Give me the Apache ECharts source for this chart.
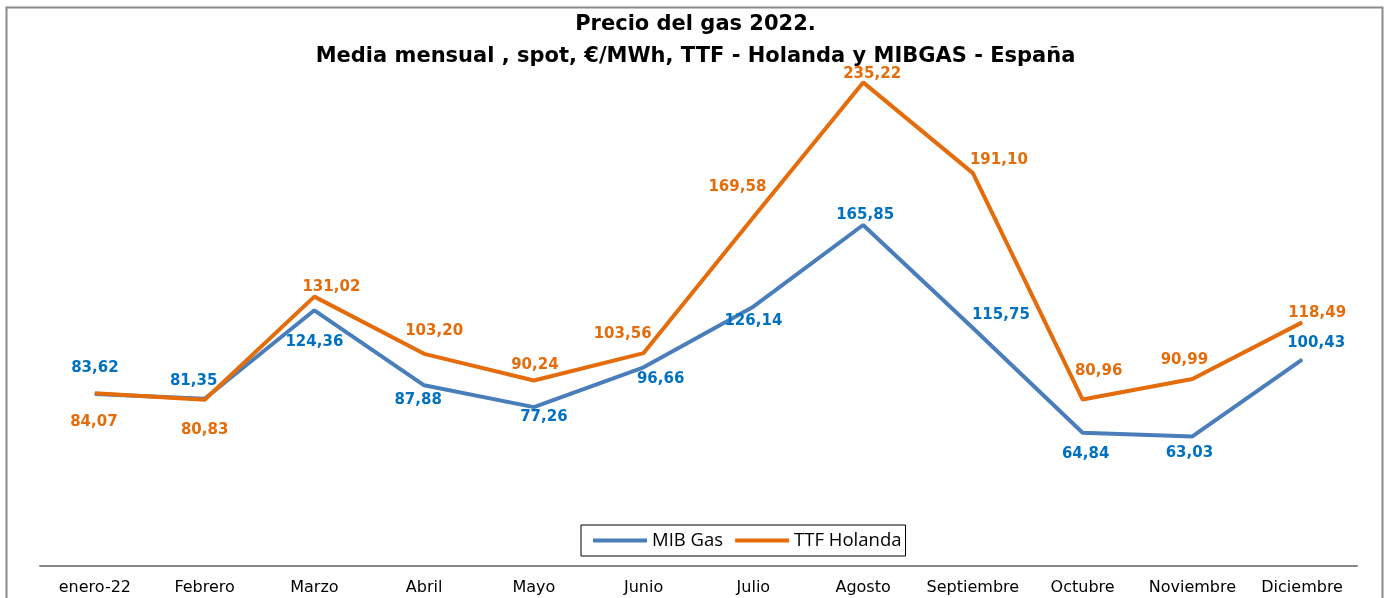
<!DOCTYPE html>
<html>
<head>
<meta charset="utf-8">
<script src="https://cdn.jsdelivr.net/npm/echarts@6/dist/echarts.min.js"></script>
<style>
  html, body { margin: 0; padding: 0; background: #fff; }
  #chart { width: 1391px; height: 598px; }
</style>
</head>
<body>
<div id="chart"></div>
<script>
var meses = ['enero-22', 'Febrero', 'Marzo', 'Abril', 'Mayo', 'Junio', 'Julio', 'Agosto', 'Septiembre', 'Octubre', 'Noviembre', 'Diciembre']
var mibGas = [83.62, 81.35, 124.36, 87.88, 77.26, 96.66, 126.14, 165.85, 115.75, 64.84, 63.03, 100.43]
var ttfHolanda = [84.07, 80.83, 131.02, 103.20, 90.24, 103.56, 169.58, 235.22, 191.10, 80.96, 90.99, 118.49]

// desplazamiento de cada etiqueta respecto a su punto (px)
var mibOffset = [[0, -26], [-11, -18], [0, 32], [-6, 15], [10, 10], [17, 12], [0, 14], [2, -10], [28, -13], [3, 21], [-3, 17], [14, -16]]
var ttfOffset = [[-1, 29], [0, 30], [17, -10], [10, -23], [1, -15], [-21, -19], [-16, -30], [9, -8], [26, -13], [16, -28], [-8, -19], [15, -9]]

var fmt = function (v) { return v.toFixed(2).replace('.', ',') }

function buildData (values, offsets, color) {
  return values.map(function (v, i) {
    return {
      value: v,
      label: {
        show: true,
        position: 'inside',
        offset: offsets[i],
        color: color,
        fontFamily: 'DejaVu Sans',
        fontWeight: 'bold',
        fontSize: 15,
        formatter: function (p) { return fmt(p.value) }
      }
    }
  })
}

var chart = echarts.init(document.getElementById('chart'))
chart.setOption({
  animation: false,
  title: {
    text: 'Precio del gas 2022.\nMedia mensual , spot, €/MWh, TTF - Holanda y MIBGAS - España',
    left: 'center',
    top: 4,
    textStyle: {
      fontFamily: 'DejaVu Sans',
      fontWeight: 'bold',
      fontSize: 21,
      lineHeight: 32,
      color: '#000'
    }
  },
  graphic: [{
    type: 'rect',
    shape: { x: 6.5, y: 7.5, width: 1376, height: 620 },
    style: { fill: 'none', stroke: '#8a8a8a', lineWidth: 2 },
    silent: true
  }],
  legend: {
    left: 581,
    top: 525,
    data: ['MIB Gas', 'TTF Holanda'],
    icon: 'rect',
    itemWidth: 54,
    itemHeight: 4,
    itemGap: 12,
    borderColor: '#000',
    borderWidth: 1,
    padding: [6, 4, 6, 12],
    textStyle: { fontFamily: 'Open Sans', fontSize: 18.5, color: '#000' }
  },
  grid: { left: 40, right: 34, top: 52, bottom: 32 },
  xAxis: {
    type: 'category',
    data: meses,
    boundaryGap: true,
    axisLine: { lineStyle: { color: '#868686', width: 2 } },
    axisTick: { show: false },
    axisLabel: { color: '#000', fontFamily: 'DejaVu Sans', fontSize: 16, margin: 14, interval: 0 }
  },
  yAxis: {
    type: 'value',
    min: 0,
    max: 250,
    show: false,
    splitLine: { show: false }
  },
  series: [
    {
      name: 'MIB Gas',
      type: 'line',
      symbol: 'circle',
      symbolSize: 1,
      itemStyle: { color: '#4a7ebb' },
      lineStyle: { color: '#4a7ebb', width: 4 },
      data: buildData(mibGas, mibOffset, '#0070c0')
    },
    {
      name: 'TTF Holanda',
      type: 'line',
      symbol: 'circle',
      symbolSize: 1,
      itemStyle: { color: '#e46c0a' },
      lineStyle: { color: '#e46c0a', width: 4 },
      data: buildData(ttfHolanda, ttfOffset, '#e46c0a')
    }
  ]
})
</script>
</body>
</html>
